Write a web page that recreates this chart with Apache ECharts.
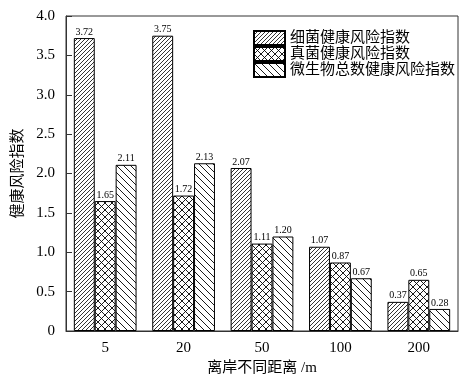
<!DOCTYPE html>
<html><head><meta charset="utf-8">
<script src="https://cdn.jsdelivr.net/npm/echarts@6/dist/echarts.min.js"></script>
<style>html,body{margin:0;padding:0;background:#fff}#c{width:473px;height:384px}</style>
</head><body><div id="c"></div>
<script>
const categories = ['5', '20', '50', '100', '200'];
const seriesNames = ['细菌健康风险指数', '真菌健康风险指数', '微生物总数健康风险指数'];
const bacteria = [3.72, 3.75, 2.07, 1.07, 0.37];
const fungi = [1.65, 1.72, 1.11, 0.87, 0.65];
const totalMicrobe = [2.11, 2.13, 1.20, 0.67, 0.28];
const yTicks = [0, 0.5, 1.0, 1.5, 2.0, 2.5, 3.0, 3.5, 4.0];

function makePattern(size, dirs, lw) {
  const c = document.createElement('canvas');
  c.width = size; c.height = size;
  const g = c.getContext('2d');
  g.fillStyle = '#fff'; g.fillRect(0, 0, size, size);
  g.strokeStyle = '#000'; g.lineWidth = lw;
  dirs.forEach(d => {
    g.beginPath();
    if (d === '/') {
      g.moveTo(-1, size + 1); g.lineTo(size + 1, -1);
      g.moveTo(-1, 1); g.lineTo(1, -1);
      g.moveTo(size - 1, size + 1); g.lineTo(size + 1, size - 1);
    } else {
      g.moveTo(-1, -1); g.lineTo(size + 1, size + 1);
      g.moveTo(-1, size - 1); g.lineTo(1, size + 1);
      g.moveTo(size - 1, -1); g.lineTo(size + 1, 1);
    }
    g.stroke();
  });
  return c;
}
const patterns = [
  makePattern(4, ['/'], 0.8),
  makePattern(7, ['/', '\\'], 0.9),
  makePattern(7, ['\\'], 0.9)
];
const dataSets = [bacteria, fungi, totalMicrobe];
const font = '"Liberation Serif", "Noto Sans CJK SC", serif';

const chart = echarts.init(document.getElementById('c'));
chart.setOption({
  animation: false,
  backgroundColor: '#fff',
  textStyle: { fontFamily: font, color: '#000' },
  grid: { left: 66, right: 15, top: 16, bottom: 53, outerBoundsMode: 'none', containLabel: false,
    show: true, borderColor: '#333', borderWidth: 1, backgroundColor: 'transparent' },
  legend: {
    orient: 'vertical', left: 248, top: 25, itemWidth: 31, itemHeight: 14, itemGap: 0,
    textStyle: { fontSize: 15, lineHeight: 15, height: 15, fontFamily: font, color: '#000' },
    data: seriesNames.map(n => ({ name: n, icon: 'rect' }))
  },
  xAxis: {
    type: 'category', data: categories,
    name: '离岸不同距离 /m', nameLocation: 'middle', nameGap: 28,
    nameTextStyle: { fontSize: 15, fontFamily: font, color: '#000' },
    axisLine: { lineStyle: { color: '#333', width: 1 } },
    axisTick: { show: false },
    axisLabel: { fontSize: 15, color: '#000', fontFamily: font, margin: 10 }
  },
  yAxis: {
    type: 'value', min: 0, max: 4, interval: 0.5,
    name: '健康风险指数', nameLocation: 'middle', nameGap: 39, nameRotate: 90,
    nameTextStyle: { fontSize: 15, fontFamily: font, color: '#000' },
    axisLine: { show: true, lineStyle: { color: '#333', width: 1 } },
    axisTick: { show: true, inside: true, length: 6, lineStyle: { color: '#333' } },
    splitLine: { show: false },
    axisLabel: { fontSize: 15, color: '#000', fontFamily: font, margin: 11,
      formatter: v => (yTicks.indexOf(v) >= 0 ? (v === 0 ? '0' : v.toFixed(1)) : '') }
  },
  series: seriesNames.map((n, i) => ({
    name: n, type: 'bar', data: dataSets[i],
    barGap: '0%', barCategoryGap: '20%',
    itemStyle: { color: { image: patterns[i], repeat: 'repeat' }, borderColor: '#000', borderWidth: 1 },
    label: { show: true, position: 'top', distance: 1, fontSize: 10, color: '#000', fontFamily: font,
      backgroundColor: '#fff', padding: [0, 1], formatter: p => p.value.toFixed(2) }
  }))
});
</script></body></html>
